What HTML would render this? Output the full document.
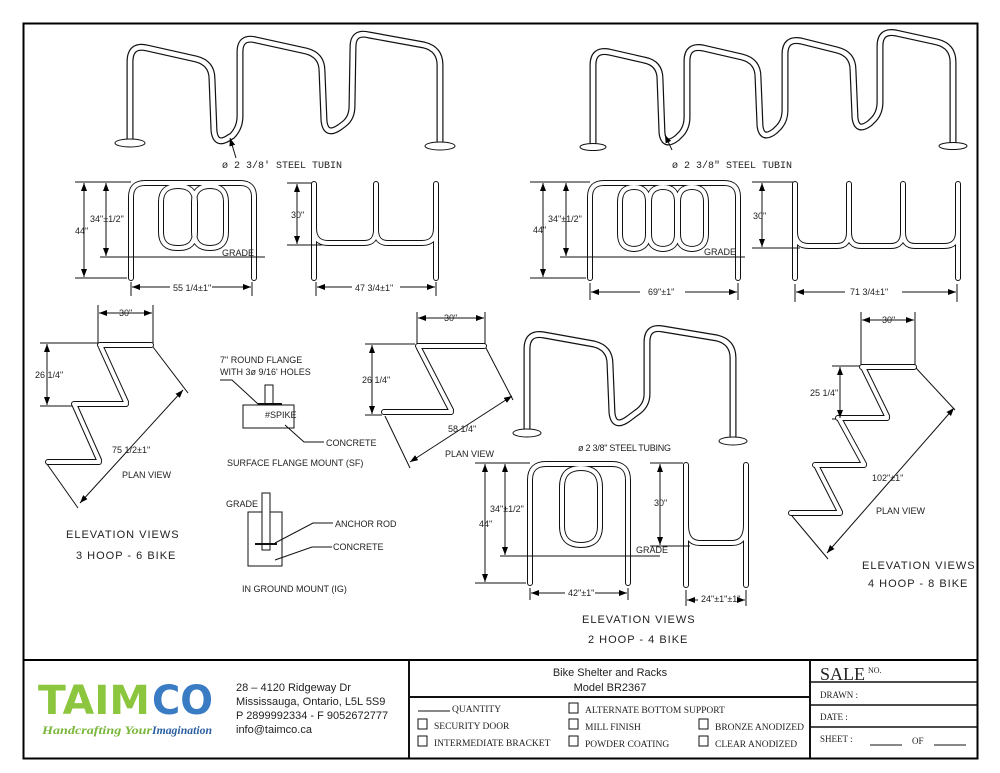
<!DOCTYPE html>
<html><head><meta charset="utf-8"><style>
html,body{margin:0;padding:0;background:#fff;}
svg{display:block;}
text{font-family:"Liberation Sans Narrow","Liberation Sans",sans-serif;fill:#222;}
.s{font-size:9px;}
.m{font-size:11px;}
.l{font-family:"Liberation Mono",monospace;font-size:10px;}
</style></head><body>
<svg width="1000" height="773" viewBox="0 0 1000 773" xmlns="http://www.w3.org/2000/svg">
<defs>
<marker id="ar" markerWidth="8" markerHeight="6" refX="8" refY="3" orient="auto-start-reverse" markerUnits="userSpaceOnUse"><path d="M0,0 L8,3 L0,6 z" fill="#000"/></marker>
<path id="h3" d="M130,143 L130,62 Q130,44 147,48 L196,59 Q212,63 212,79 L214,131 Q216,147 230,137 L232,136 Q240,128 240,116 L240,52 Q240,36 256,40 L306,51 Q322,55 322,71 L324,121 Q326,137 340,127 L344,124 Q352,118 352,106 L353,47 Q353,31 369,35 L424,45 Q440,49 440,65 L440,146"/>
<path id="h4" d="M593,146 L593,65 Q593,49 609,52 L644,60 Q660,63 660,79 L662,133 Q664,148 677,138 L679,136 Q687,129 687,117 L687,61 Q687,45 703,48 L742,57 Q758,61 758,77 L760,126 Q762,141 775,131 L777,129 Q785,122 785,110 L785,54 Q785,38 801,41 L837,50 Q853,54 853,70 L855,118 Q857,133 870,123 L872,121 Q880,114 880,102 L880,46 Q880,30 896,33 L937,42 Q953,46 953,62 L953,146"/>
<path id="h2" d="M527,432 L527,349 Q527,332 544,335 L594,344 Q610,348 610,364 L612,413 Q614,429 628,419 L636,413 Q647,406 647,394 L647,342 Q647,326 663,329 L717,338 Q733,342 733,358 L733,440"/>
<path id="f3" d="M131,278 L131,197 Q131,183 145,183 L240,183 Q254,183 254,197 L254,278"/>
<path id="o3a" d="M178,186 Q195,186 195,202 L195,232 Q195,248 179,248 L177,248 Q161,248 161,232 L161,202 Q161,186 178,186 Z"/>
<path id="o3b" d="M210,186 Q226,186 226,202 L226,232 Q226,248 210,248 L210,248 Q194,248 194,232 L194,202 Q194,186 210,186 Z"/>
<path id="s3" d="M314,278 L314,184 M436,278 L436,184 M314,228 Q314,243 328,243 L364,243 Q376,243 376,230 Q376,243 388,243 L422,243 Q436,243 436,228 M376,230 L376,184"/>
<path id="f4" d="M590,278 L590,197 Q590,183 604,183 L724,183 Q738,183 738,197 L738,278"/>
<path id="o4" d="M634,187 Q648,187 648,202 L648,234 Q648,249 633,249 L635,249 Q620,249 620,234 L620,202 Q620,187 634,187 Z M663,187 Q677,187 677,202 L677,234 Q677,249 662,249 L664,249 Q649,249 649,234 L649,202 Q649,187 663,187 Z M692,187 Q706,187 706,202 L706,234 Q706,249 691,249 L693,249 Q678,249 678,234 L678,202 Q678,187 692,187 Z"/>
<path id="s4" d="M795,278 L795,184 M958,278 L958,184 M849,184 L849,232 M903,184 L903,232 M795,232 Q795,246 809,246 L837,246 Q849,246 849,232 Q849,246 861,246 L891,246 Q903,246 903,232 Q903,246 915,246 L944,246 Q958,246 958,232"/>
<path id="f2" d="M530,583 L530,480 Q530,464 546,464 L612,464 Q628,464 628,480 L628,583"/>
<path id="o2" d="M581,468 Q600,468 600,487 L600,526 Q600,545 581,545 L581,545 Q562,545 562,526 L562,487 Q562,468 581,468 Z"/>
<path id="s2" d="M686,585 L686,465 M746,585 L746,465 M686,525 Q686,543 700,543 L732,543 Q746,543 746,525"/>
<path id="p3" d="M100,345 L151,345 M101,347 L126,402 M74,404 L126,404 M75,406 L99,460 M48,462 L99,462"/>
<path id="p2" d="M418,346 L484,346 M419,348 L451,410 M384,412 L451,412"/>
<path id="p4" d="M862,367 L914,367 M864,369 L887,416 M838,418 L887,418 M840,420 L864,464 M815,465 L864,465 M817,467 L840,512 M791,513 L840,513"/>
</defs>

<rect x="23.5" y="23.5" width="954" height="735" fill="none" stroke="#000" stroke-width="2"/>
<line x1="23" y1="660" x2="978" y2="660" stroke="#000" stroke-width="2"/>

<g fill="none" stroke="#111" stroke-width="7" stroke-linecap="round" stroke-linejoin="round">
<use href="#h3"/><use href="#h4"/><use href="#h2"/>
</g>
<g fill="none" stroke="#fff" stroke-width="4.6" stroke-linecap="round" stroke-linejoin="round">
<use href="#h3"/><use href="#h4"/><use href="#h2"/>
</g>
<g fill="none" stroke="#111" stroke-width="6" stroke-linecap="round" stroke-linejoin="round">
<use href="#f3"/><use href="#o3a"/><use href="#o3b"/><use href="#s3"/><use href="#f4"/><use href="#o4"/><use href="#s4"/><use href="#f2"/><use href="#o2"/><use href="#s2"/><use href="#p3"/><use href="#p2"/><use href="#p4"/>
</g>
<g fill="none" stroke="#fff" stroke-width="4" stroke-linecap="round" stroke-linejoin="round">
<use href="#f3"/><use href="#o3a"/><use href="#o3b"/><use href="#s3"/><use href="#f4"/><use href="#o4"/><use href="#s4"/><use href="#f2"/><use href="#o2"/><use href="#s2"/><use href="#p3"/><use href="#p2"/><use href="#p4"/>
</g>

<g fill="#fff" stroke="#111" stroke-width="1">
<ellipse cx="130" cy="143" rx="15" ry="4"/><ellipse cx="440" cy="146" rx="15" ry="4"/>
<ellipse cx="593" cy="147" rx="13" ry="3.5"/><ellipse cx="953" cy="146" rx="14" ry="3.5"/>
<ellipse cx="527" cy="433" rx="14" ry="4"/><ellipse cx="733" cy="441" rx="14" ry="4"/>
</g>

<g stroke="#111" stroke-width="1" fill="none">
<line x1="75" y1="182" x2="131" y2="182"/><line x1="75" y1="278" x2="127" y2="278"/><line x1="100" y1="257" x2="265" y2="257"/>
<line x1="84" y1="183" x2="84" y2="277" marker-start="url(#ar)" marker-end="url(#ar)"/>
<line x1="106" y1="183" x2="106" y2="256" marker-start="url(#ar)" marker-end="url(#ar)"/>
<line x1="131" y1="282" x2="131" y2="296"/><line x1="252" y1="282" x2="252" y2="296"/>
<line x1="132" y1="287" x2="170" y2="287" marker-start="url(#ar)"/><line x1="212" y1="287" x2="251" y2="287" marker-end="url(#ar)"/>
<line x1="287" y1="183" x2="312" y2="183"/><line x1="287" y1="245" x2="322" y2="245"/>
<line x1="297" y1="184" x2="297" y2="244" marker-start="url(#ar)" marker-end="url(#ar)"/>
<line x1="316" y1="282" x2="316" y2="296"/><line x1="436" y1="282" x2="436" y2="296"/>
<line x1="317" y1="287" x2="352" y2="287" marker-start="url(#ar)"/><line x1="400" y1="287" x2="435" y2="287" marker-end="url(#ar)"/>
<line x1="530" y1="182" x2="590" y2="182"/><line x1="530" y1="278" x2="586" y2="278"/><line x1="560" y1="257" x2="745" y2="257"/>
<line x1="543" y1="183" x2="543" y2="277" marker-start="url(#ar)" marker-end="url(#ar)"/>
<line x1="566" y1="183" x2="566" y2="256" marker-start="url(#ar)" marker-end="url(#ar)"/>
<line x1="590" y1="283" x2="590" y2="300"/><line x1="738" y1="283" x2="738" y2="300"/>
<line x1="591" y1="292" x2="640" y2="292" marker-start="url(#ar)"/><line x1="685" y1="292" x2="737" y2="292" marker-end="url(#ar)"/>
<line x1="752" y1="182" x2="793" y2="182"/><line x1="752" y1="248" x2="800" y2="248"/>
<line x1="762" y1="183" x2="762" y2="247" marker-start="url(#ar)" marker-end="url(#ar)"/>
<line x1="795" y1="284" x2="795" y2="302"/><line x1="957" y1="284" x2="957" y2="302"/>
<line x1="796" y1="292" x2="845" y2="292" marker-start="url(#ar)"/><line x1="902" y1="292" x2="956" y2="292" marker-end="url(#ar)"/>
<line x1="98" y1="305" x2="98" y2="343"/><line x1="153" y1="305" x2="153" y2="343"/>
<line x1="99" y1="313" x2="152" y2="313" marker-start="url(#ar)" marker-end="url(#ar)"/>
<line x1="40" y1="343" x2="98" y2="343"/><line x1="40" y1="406" x2="72" y2="406"/>
<line x1="47" y1="344" x2="47" y2="405" marker-start="url(#ar)" marker-end="url(#ar)"/>
<line x1="153" y1="347" x2="188" y2="393"/><line x1="47" y1="464" x2="78" y2="508"/>
<line x1="80" y1="503" x2="183" y2="390" marker-start="url(#ar)" marker-end="url(#ar)"/>
<line x1="417" y1="312" x2="417" y2="344"/><line x1="485" y1="312" x2="485" y2="344"/>
<line x1="418" y1="318" x2="484" y2="318" marker-start="url(#ar)" marker-end="url(#ar)"/>
<line x1="365" y1="344" x2="415" y2="344"/><line x1="365" y1="415" x2="382" y2="415"/>
<line x1="372" y1="345" x2="372" y2="414" marker-start="url(#ar)" marker-end="url(#ar)"/>
<line x1="486" y1="348" x2="513" y2="400"/><line x1="385" y1="416" x2="410" y2="468"/>
<line x1="410" y1="462" x2="512" y2="396" marker-start="url(#ar)" marker-end="url(#ar)"/>
<line x1="861" y1="312" x2="861" y2="365"/><line x1="915" y1="312" x2="915" y2="365"/>
<line x1="862" y1="320" x2="914" y2="320" marker-start="url(#ar)" marker-end="url(#ar)"/>
<line x1="832" y1="366" x2="860" y2="366"/><line x1="832" y1="419" x2="836" y2="419"/>
<line x1="840" y1="367" x2="840" y2="418" marker-start="url(#ar)" marker-end="url(#ar)"/>
<line x1="916" y1="368" x2="955" y2="410"/><line x1="792" y1="516" x2="828" y2="559"/>
<line x1="827" y1="553" x2="954" y2="408" marker-start="url(#ar)" marker-end="url(#ar)"/>
<line x1="475" y1="463" x2="530" y2="463"/><line x1="475" y1="583" x2="526" y2="583"/><line x1="500" y1="556" x2="660" y2="556"/>
<line x1="485" y1="464" x2="485" y2="582" marker-start="url(#ar)" marker-end="url(#ar)"/>
<line x1="505" y1="464" x2="505" y2="555" marker-start="url(#ar)" marker-end="url(#ar)"/>
<line x1="530" y1="588" x2="530" y2="600"/><line x1="628" y1="588" x2="628" y2="600"/>
<line x1="531" y1="593" x2="565" y2="593" marker-start="url(#ar)"/><line x1="595" y1="593" x2="627" y2="593" marker-end="url(#ar)"/>
<line x1="650" y1="463" x2="683" y2="463"/><line x1="650" y1="546" x2="690" y2="546"/>
<line x1="660" y1="464" x2="660" y2="545" marker-start="url(#ar)" marker-end="url(#ar)"/>
<line x1="686" y1="590" x2="686" y2="606"/><line x1="746" y1="590" x2="746" y2="606"/>
<line x1="687" y1="600" x2="698" y2="600" marker-start="url(#ar)"/><line x1="737" y1="600" x2="745" y2="600" marker-end="url(#ar)"/>
<line x1="236" y1="158" x2="230" y2="138" marker-end="url(#ar)"/>
<line x1="672" y1="150" x2="665" y2="135" marker-end="url(#ar)"/>
<rect x="243" y="405" width="51" height="23"/>
<rect x="265" y="385" width="8" height="20"/>
<line x1="258" y1="404" x2="282" y2="404" stroke-width="2"/>
<polyline points="220,380 232,380 258,404"/>
<polyline points="285,425 304,442 324,442"/>
<rect x="248" y="512" width="34" height="54"/>
<rect x="262" y="493" width="8" height="57" fill="#fff"/>
<line x1="255" y1="544" x2="277" y2="544" stroke-width="2"/>
<polyline points="275,543 313,523 333,523"/>
<polyline points="275,560 312,547 332,547"/>
<line x1="409" y1="660" x2="409" y2="758" stroke-width="2"/>
<line x1="810" y1="660" x2="810" y2="758" stroke-width="2"/>
<line x1="409" y1="697" x2="810" y2="697" stroke-width="2"/>
<line x1="810" y1="682" x2="977" y2="682" stroke-width="1.5"/>
<line x1="810" y1="705" x2="977" y2="705" stroke-width="1.5"/>
<line x1="810" y1="727" x2="977" y2="727" stroke-width="1.5"/>
<line x1="418" y1="711" x2="450" y2="711"/>
<line x1="870" y1="745" x2="902" y2="745"/><line x1="934" y1="745" x2="966" y2="745"/>
<rect x="418" y="719" width="9" height="10"/><rect x="418" y="736" width="9" height="10"/>
<rect x="569" y="703" width="9" height="10"/><rect x="569" y="719" width="9" height="10"/><rect x="569" y="736" width="9" height="10"/>
<rect x="699" y="719" width="9" height="10"/><rect x="699" y="736" width="9" height="10"/>
</g>

<text class="l" x="222" y="168">ø 2 3/8' STEEL TUBIN</text>
<text class="l" x="672" y="168">ø 2 3/8" STEEL TUBIN</text>
<text class="s" x="578" y="451" textLength="93">ø 2 3/8" STEEL TUBING</text>
<text class="s" x="90" y="222" font-size="8">34"±1/2"</text>
<text class="s" x="75" y="234">44"</text>
<text class="s" x="222" y="256" font-size="7">GRADE</text>
<text class="s" x="173" y="291">55 1/4±1"</text>
<text class="s" x="291" y="218">30"</text>
<text class="s" x="355" y="291">47 3/4±1"</text>
<text class="s" x="548" y="222">34"±1/2"</text>
<text class="s" x="533" y="233">44"</text>
<text class="s" x="704" y="255">GRADE</text>
<text class="s" x="648" y="295">69"±1"</text>
<text class="s" x="753" y="219">30"</text>
<text class="s" x="850" y="295">71 3/4±1"</text>
<text class="s" x="119" y="316" font-size="8">30"</text>
<text class="s" x="35" y="378" font-size="8">26 1/4"</text>
<text class="s" x="112" y="453" font-size="8">75 1/2±1"</text>
<text class="s" x="122" y="478" font-size="7">PLAN VIEW</text>
<text class="m" x="66" y="538" letter-spacing="1">ELEVATION VIEWS</text>
<text class="m" x="76" y="559" letter-spacing="1">3 HOOP - 6 BIKE</text>
<text class="s" x="220" y="363">7" ROUND FLANGE</text>
<text class="s" x="220" y="375">WITH 3ø 9/16' HOLES</text>
<text class="s" x="265" y="418">#SPIKE</text>
<text class="s" x="326" y="446">CONCRETE</text>
<text class="s" x="227" y="466">SURFACE FLANGE MOUNT (SF)</text>
<text class="s" x="226" y="507" font-size="8">GRADE</text>
<text class="s" x="335" y="527">ANCHOR ROD</text>
<text class="s" x="333" y="550">CONCRETE</text>
<text class="s" x="242" y="592" font-size="8">IN GROUND MOUNT (IG)</text>
<text class="s" x="444" y="321" font-size="7">30"</text>
<text class="s" x="362" y="383" font-size="7">26 1/4"</text>
<text class="s" x="448" y="432" font-size="7">58 1/4"</text>
<text class="s" x="445" y="457" font-size="6">PLAN VIEW</text>
<text class="s" x="490" y="512" font-size="7">34"±1/2"</text>
<text class="s" x="479" y="527" font-size="7">44"</text>
<text class="s" x="636" y="553" font-size="7">GRADE</text>
<text class="s" x="568" y="596" font-size="7">42"±1"</text>
<text class="s" x="654" y="506" font-size="7">30"</text>
<text class="s" x="701" y="602" font-size="7">24"±1"±1"</text>
<text class="m" x="582" y="623" letter-spacing="1">ELEVATION VIEWS</text>
<text class="m" x="588" y="643" letter-spacing="1">2 HOOP - 4 BIKE</text>
<text class="s" x="882" y="323" font-size="7">30"</text>
<text class="s" x="810" y="396" font-size="8">25 1/4"</text>
<text class="s" x="872" y="481" font-size="7">102"±1"</text>
<text class="s" x="876" y="514" font-size="7">PLAN VIEW</text>
<text class="m" x="862" y="569" letter-spacing="1">ELEVATION VIEWS</text>
<text class="m" x="868" y="587" letter-spacing="1">4 HOOP - 8 BIKE</text>

<text x="38" y="714" style="font-family:'DejaVu Sans','Liberation Sans',sans-serif;font-weight:bold;font-size:40px;fill:#8cc63e" textLength="112" lengthAdjust="spacingAndGlyphs">TAIM</text>
<text x="152" y="714" style="font-family:'DejaVu Sans','Liberation Sans',sans-serif;font-weight:bold;font-size:40px;fill:#3a7cc4" textLength="61" lengthAdjust="spacingAndGlyphs">CO</text>
<text x="42" y="734" style="font-family:'Liberation Serif',serif;font-style:italic;font-weight:bold;font-size:12px;fill:#7ab63a" textLength="110" lengthAdjust="spacingAndGlyphs">Handcrafting Your</text>
<text x="152" y="734" style="font-family:'Liberation Serif',serif;font-style:italic;font-weight:bold;font-size:12px;fill:#2a5fa0" textLength="60" lengthAdjust="spacingAndGlyphs">Imagination</text>
<text x="236" y="691" style="font-size:11px">28 – 4120 Ridgeway Dr</text>
<text x="236" y="705" style="font-size:11px">Mississauga, Ontario, L5L 5S9</text>
<text x="236" y="719" style="font-size:11px">P 2899992334 - F 9052672777</text>
<text x="236" y="733" style="font-size:11px">info@taimco.ca</text>
<text x="610" y="676" text-anchor="middle" style="font-size:11px">Bike Shelter and Racks</text>
<text x="610" y="691" text-anchor="middle" style="font-size:11px">Model BR2367</text>
<g>
<text x="452" y="712" style="font-family:'Liberation Serif',serif;font-size:9.5px">QUANTITY</text>
<text x="585" y="713" style="font-family:'Liberation Serif',serif;font-size:9.5px">ALTERNATE BOTTOM SUPPORT</text>
<text x="434" y="729" style="font-family:'Liberation Serif',serif;font-size:9.5px">SECURITY DOOR</text>
<text x="585" y="730" style="font-family:'Liberation Serif',serif;font-size:9.5px">MILL FINISH</text>
<text x="715" y="730" style="font-family:'Liberation Serif',serif;font-size:9.5px">BRONZE ANODIZED</text>
<text x="434" y="746" style="font-family:'Liberation Serif',serif;font-size:9.5px">INTERMEDIATE BRACKET</text>
<text x="585" y="747" style="font-family:'Liberation Serif',serif;font-size:9.5px">POWDER COATING</text>
<text x="715" y="747" style="font-family:'Liberation Serif',serif;font-size:9.5px">CLEAR ANODIZED</text>
<text x="820" y="680" style="font-family:'Liberation Serif',serif;font-size:18px">SALE</text>
<text x="868" y="673" style="font-family:'Liberation Serif',serif;font-size:8px">NO.</text>
<text x="820" y="698" style="font-family:'Liberation Serif',serif;font-size:9px">DRAWN :</text>
<text x="820" y="720" style="font-family:'Liberation Serif',serif;font-size:9px">DATE :</text>
<text x="820" y="742" style="font-family:'Liberation Serif',serif;font-size:9px">SHEET :</text>
<text x="912" y="744" style="font-family:'Liberation Serif',serif;font-size:9px">OF</text>
</g>
</svg>
</body></html>
